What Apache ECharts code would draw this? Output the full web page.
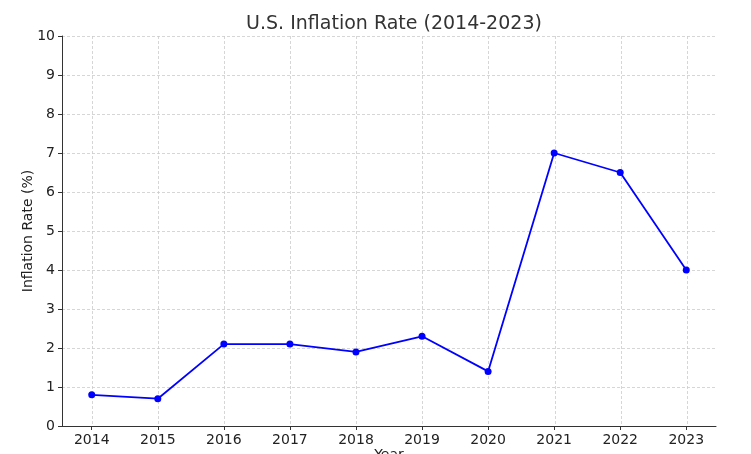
<!DOCTYPE html>
<html>
<head>
<meta charset="utf-8">
<script src="https://cdn.jsdelivr.net/npm/echarts@6/dist/echarts.min.js"></script>
<style>html,body{margin:0;padding:0;background:#fff}#c{width:751px;height:454px}</style>
</head>
<body>
<div id="c"></div>
<script>
const years = [2014, 2015, 2016, 2017, 2018, 2019, 2020, 2021, 2022, 2023];
const inflation = [0.8, 0.7, 2.1, 2.1, 1.9, 2.3, 1.4, 7.0, 6.5, 4.0];
const yTicks = [0, 1, 2, 3, 4, 5, 6, 7, 8, 9, 10];

const chart = echarts.init(document.getElementById('c'), null, {renderer: 'canvas'});
const font = 'DejaVu Sans';
const gridLine = {show: true, lineStyle: {color: '#cccccc', type: [3, 2], width: 0.8}};
chart.setOption({
  animation: false,
  textStyle: {fontFamily: font},
  title: {
    text: 'U.S. Inflation Rate (2014-2023)',
    left: 389, top: 10, textAlign: 'center',
    textStyle: {fontFamily: font, fontSize: 19, fontWeight: 'normal', color: '#333'}
  },
  grid: [
    {left: 62, right: 35, top: 36, bottom: 28, outerBoundsMode: 'none', containLabel: false},
    {left: 92, right: 64, top: 36, bottom: 28, outerBoundsMode: 'none', containLabel: false}
  ],
  xAxis: [{
    type: 'value', gridIndex: 0,
    min: 2013.55, max: 2023.45,
    name: 'Year', nameLocation: 'middle', nameGap: 22, nameMoveOverlap: false,
    nameTextStyle: {fontFamily: font, fontSize: 14, color: '#222'},
    axisLine: {show: true, lineStyle: {color: '#333', width: 1}},
    axisTick: {show: true, length: 4, customValues: years, lineStyle: {color: '#333'}},
    axisLabel: {customValues: years, fontFamily: font, fontSize: 14, color: '#222', margin: 7, formatter: v => String(v)},
    splitLine: {show: false}
  }, {
    type: 'value', gridIndex: 1,
    min: 2014, max: 2023, interval: 1,
    axisLine: {show: false}, axisTick: {show: false}, axisLabel: {show: false},
    splitLine: gridLine
  }],
  yAxis: [{
    type: 'value', gridIndex: 0,
    min: 0, max: 10, interval: 1,
    name: 'Inflation Rate (%)', nameLocation: 'middle', nameGap: 27, nameRotate: 90, nameMoveOverlap: false,
    nameTextStyle: {fontFamily: font, fontSize: 14, color: '#222'},
    axisLine: {show: true, lineStyle: {color: '#333', width: 1}},
    axisTick: {show: true, length: 4, lineStyle: {color: '#333'}},
    axisLabel: {fontFamily: font, fontSize: 14, color: '#222', margin: 7},
    splitLine: gridLine
  }, {
    type: 'value', gridIndex: 1, min: 0, max: 10,
    axisLine: {show: false}, axisTick: {show: false}, axisLabel: {show: false}, splitLine: {show: false}
  }],
  series: [{
    type: 'line', xAxisIndex: 0, yAxisIndex: 0,
    data: years.map((y, i) => [y, inflation[i]]),
    symbol: 'circle', symbolSize: 7,
    lineStyle: {color: '#0000ff', width: 1.8},
    itemStyle: {color: '#0000ff'}
  }]
});
</script>
</body>
</html>
